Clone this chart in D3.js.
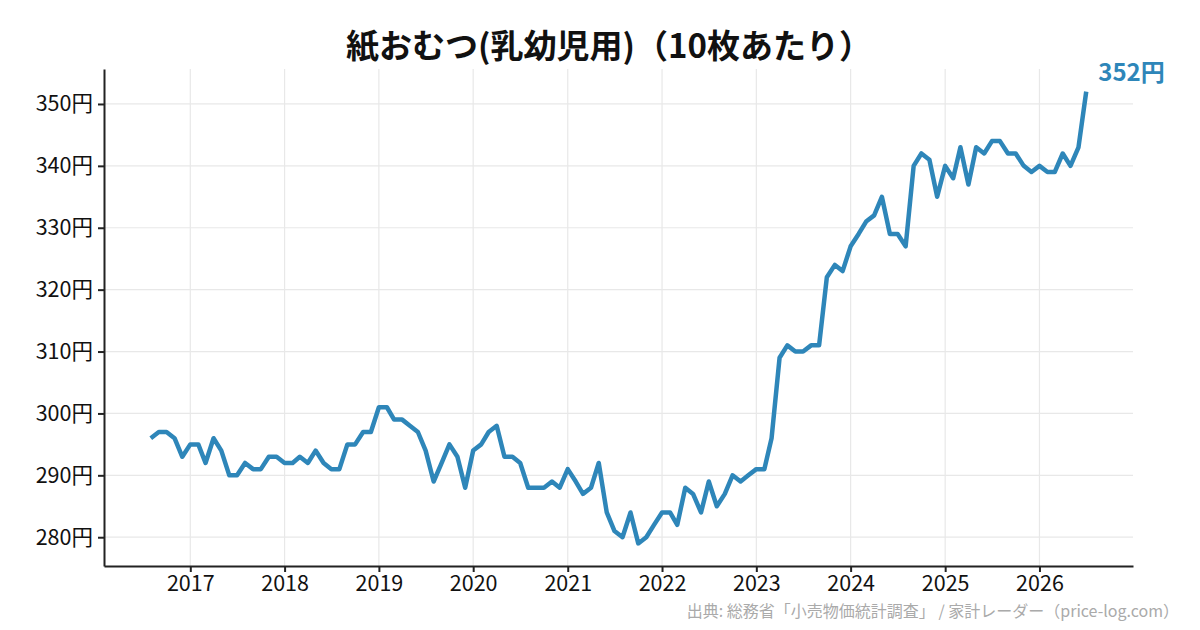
<!DOCTYPE html>
<html>
<head>
<meta charset="utf-8">
<script src="https://cdn.jsdelivr.net/npm/d3@7"></script>
<style>
  body { margin: 0; background: #fff; }
  text { font-family: "Noto Sans CJK JP", "Noto Sans", sans-serif; }
</style>
</head>
<body>
<div id="chart"></div>
<script>
// monthly price, 2016-08 .. 2026-07
let startMonth = "2016-08"
let prices = [
  296, 297, 297, 296, 293,
  295, 295, 292, 296, 294, 290, 290, 292, 291, 291, 293, 293,
  292, 292, 293, 292, 294, 292, 291, 291, 295, 295, 297, 297,
  301, 301, 299, 299, 298, 297, 294, 289, 292, 295, 293, 288,
  294, 295, 297, 298, 293, 293, 292, 288, 288, 288, 289, 288,
  291, 289, 287, 288, 292, 284, 281, 280, 284, 279, 280, 282,
  284, 284, 282, 288, 287, 284, 289, 285, 287, 290, 289, 290,
  291, 291, 296, 309, 311, 310, 310, 311, 311, 322, 324, 323,
  327, 329, 331, 332, 335, 329, 329, 327, 340, 342, 341, 335,
  340, 338, 343, 337, 343, 342, 344, 344, 342, 342, 340, 339,
  340, 339, 339, 342, 340, 343, 352
]
let yTicks = [280, 290, 300, 310, 320, 330, 340, 350]
let xTickYears = [2017, 2018, 2019, 2020, 2021, 2022, 2023, 2024, 2025, 2026]

let titleText = "紙おむつ(乳幼児用)（10枚あたり）"
let sourceText = "出典: 総務省「小売物価統計調査」 / 家計レーダー（price-log.com）"

let svgWidth = 1200
let svgHeight = 630
let margin = { top: 69, right: 67, bottom: 64, left: 104 }
let width = svgWidth - margin.left - margin.right
let height = svgHeight - margin.top - margin.bottom

let lineColor = "#2E86B9"

let parseMonth = d3.timeParse("%Y-%m")
let t0 = parseMonth(startMonth)
let data = prices.map((v, i) => ({ date: d3.timeMonth.offset(t0, i), value: v }))

let svg = d3.select("#chart")
  .append("svg")
  .attr("width", svgWidth)
  .attr("height", svgHeight)

let chartGroup = svg.append("g")
  .attr("transform", `translate(${margin.left}, ${margin.top})`)

// scales, padded 5% like the source
let xExt = d3.extent(data, d => d.date)
let xPad = (xExt[1] - xExt[0]) * 0.05
let xScale = d3.scaleTime()
  .domain([new Date(+xExt[0] - xPad), new Date(+xExt[1] + xPad)])
  .range([0, width])

let yExt = d3.extent(data, d => d.value)
let yPad = (yExt[1] - yExt[0]) * 0.05
let yScale = d3.scaleLinear()
  .domain([yExt[0] - yPad, yExt[1] + yPad])
  .range([height, 0])

let xTicks = xTickYears.map(y => new Date(y, 0, 1))

// grid
chartGroup.append("g")
  .selectAll("line")
  .data(yTicks)
  .enter()
  .append("line")
  .attr("x1", 0)
  .attr("x2", width)
  .attr("y1", d => yScale(d))
  .attr("y2", d => yScale(d))
  .attr("stroke", "#e8e8e8")
  .attr("stroke-width", 1.2)

chartGroup.append("g")
  .selectAll("line")
  .data(xTicks)
  .enter()
  .append("line")
  .attr("x1", d => xScale(d))
  .attr("x2", d => xScale(d))
  .attr("y1", 0)
  .attr("y2", height)
  .attr("stroke", "#e8e8e8")
  .attr("stroke-width", 1.2)

// axes
let bottomAxis = d3.axisBottom(xScale)
  .tickValues(xTicks)
  .tickFormat(d3.timeFormat("%Y"))
  .tickSizeInner(6)
  .tickSizeOuter(0)
  .tickPadding(4)
let leftAxis = d3.axisLeft(yScale)
  .tickValues(yTicks)
  .tickFormat(d => d + "円")
  .tickSizeInner(6)
  .tickSizeOuter(0)
  .tickPadding(5)

let xAxisG = chartGroup.append("g")
  .attr("transform", `translate(0, ${height})`)
  .call(bottomAxis)
let yAxisG = chartGroup.append("g")
  .call(leftAxis)

;[xAxisG, yAxisG].forEach(g => {
  g.select(".domain").attr("stroke", "#222").attr("stroke-width", 2)
  g.selectAll(".tick line").attr("stroke", "#222").attr("stroke-width", 2)
  g.selectAll(".tick text")
    .attr("fill", "#111")
    .style("font-family", "'Noto Sans CJK JP', sans-serif")
    .style("font-size", "21.5px")
})

// line
let line = d3.line()
  .x(d => xScale(d.date))
  .y(d => yScale(d.value))

chartGroup.append("path")
  .datum(data)
  .attr("d", line)
  .attr("fill", "none")
  .attr("stroke", lineColor)
  .attr("stroke-width", 4.5)
  .attr("stroke-linejoin", "round")
  .attr("stroke-linecap", "butt")

// last value label
let last = data[data.length - 1]
chartGroup.append("text")
  .attr("x", xScale(last.date) + 12)
  .attr("y", yScale(last.value) - 11)
  .attr("fill", lineColor)
  .style("font-size", "24px")
  .style("font-weight", "bold")
  .text(last.value + "円")

// title
svg.append("text")
  .attr("x", 609)
  .attr("y", 58)
  .attr("text-anchor", "middle")
  .attr("fill", "#111")
  .style("font-size", "33px")
  .style("font-weight", "bold")
  .text(titleText)

// source
svg.append("text")
  .attr("x", 1179)
  .attr("y", 617)
  .attr("text-anchor", "end")
  .attr("fill", "#aaaaaa")
  .style("font-size", "16px")
  .text(sourceText)
</script>
</body>
</html>
